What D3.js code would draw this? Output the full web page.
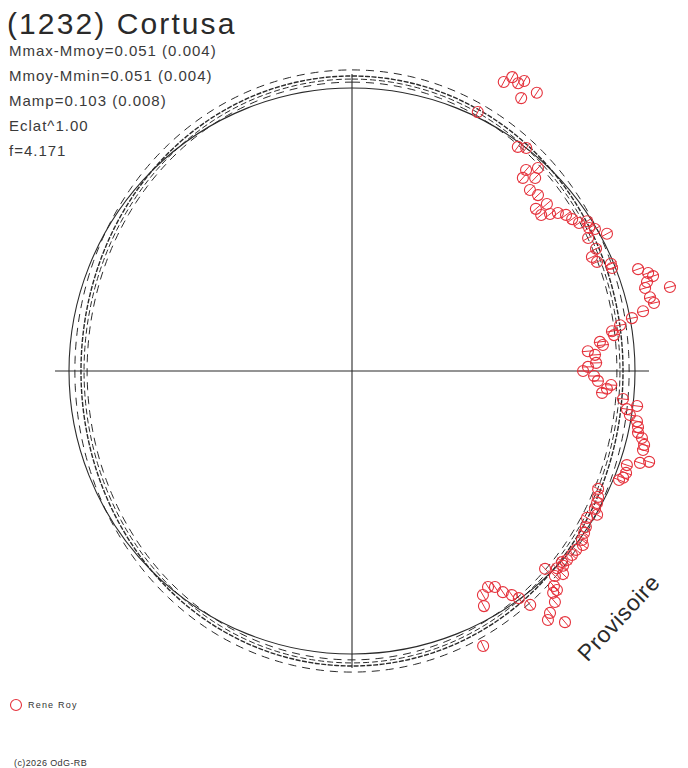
<!DOCTYPE html>
<html>
<head>
<meta charset="utf-8">
<script src="https://cdn.jsdelivr.net/npm/d3@7"></script>
<style>
html,body{margin:0;padding:0;background:#fff;}
svg{display:block;font-family:"Liberation Sans",Arial,sans-serif;}
</style>
</head>
<body>
<svg id="chart" width="688" height="768"></svg>
<script>
// ---- data (phase angle in degrees, clockwise from top; magnitude offset from mean in mag, outward positive)
const title = "(1232) Cortusa";
const statLines = ["Mmax-Mmoy=0.051 (0.004)", "Mmoy-Mmin=0.051 (0.004)", "Mamp=0.103 (0.008)", "Eclat^1.00", "f=4.171"];
const observers = ["Rene Roy"];
const phaseDeg = [27.7,28.6,30.0,30.7,31.8,33.6,25.9,36.5,38.0,40.9,42.5,41.5,43.5,44.5,46.6,48.6,49.4,50.5,51.6,52.5,
  53.9,55.4,56.9,57.5,58.9,59.7,61.7,60.6,63.4,64.6,66.0,67.5,68.4,70.4,71.7,72.5,73.2,74.2,75.2,76.1,
  77.3,78.4,79.3,80.3,81.3,82.2,83.3,84.1,85.2,86.2,88.1,89.0,90.0,91.2,92.3,93.1,94.0,95.0,95.9,97.9,
  97.0,99.0,100.0,101.1,102.2,103.0,104.2,105.2,107.7,107.0,108.9,110.4,111.5,112.2,115.6,117.1,118.3,119.6,120.4,122.0,
  123.7,124.9,126.3,127.0,128.6,129.9,131.3,132.3,132.7,133.9,135.7,133.9,135.3,136.8,136.9,137.8,138.7,140.7,141.8,139.7,
  142.7,143.7,144.5,145.7,146.5,147.8,149.7,150.7,154.5];
const deltaMag = [0.185,0.220,0.210,0.231,0.162,0.217,0.021,-0.018,0.000,-0.073,-0.033,-0.107,-0.072,-0.124,-0.115,-0.161,-0.112,-0.161,-0.129,-0.100,
  -0.077,-0.066,-0.051,-0.018,-0.026,-0.007,0.028,-0.051,-0.043,-0.074,-0.063,-0.012,-0.014,0.088,0.123,0.139,0.107,0.092,0.195,0.102,
  0.113,0.060,0.008,-0.047,-0.085,-0.079,-0.142,-0.131,-0.197,-0.168,-0.165,-0.200,-0.221,-0.174,-0.157,-0.100,-0.117,-0.136,-0.045,-0.023,
  0.018,-0.007,0.027,0.036,0.041,0.062,0.078,0.079,0.082,0.118,0.032,0.040,0.036,0.023,-0.043,-0.028,-0.020,-0.015,0.005,-0.025,
  -0.008,0.000,0.010,0.026,0.016,0.016,0.014,0.004,0.018,0.006,-0.028,0.042,0.023,0.051,0.072,0.070,0.104,0.126,0.144,0.197,
  0.047,-0.005,-0.033,-0.065,-0.102,-0.118,-0.100,-0.057,0.092];
const magError = 0.026;
// Fourier fit: second harmonic amplitude (mag) and envelope offsets (mag)
const fitAmplitude = 0.051;
const envelopeOffsets = [0.026, -0.013, -0.026];

// ---- layout
const svg = d3.select("#chart");
const cx = 352, cy = 371;
const r = d3.scaleLinear().domain([0, 0.1]).range([283, 306.5]);
const toRad = d3.scaleLinear().domain([0, 360]).range([0, 2 * Math.PI]);
const red = "#e5323c";
const ink = "#2a2a2a";

const g = svg.append("g").attr("transform", `translate(${cx},${cy})`);

// axes
const axisLen = r(fitAmplitude) + 2;
g.append("line").attr("x1", -axisLen).attr("x2", axisLen).attr("y1", 0).attr("y2", 0)
  .attr("stroke", ink).attr("stroke-width", 1.1);
g.append("line").attr("y1", -axisLen).attr("y2", axisLen).attr("x1", 0).attr("x2", 0)
  .attr("stroke", ink).attr("stroke-width", 1.1);

// mean circle
g.append("circle").attr("r", r(0)).attr("fill", "none").attr("stroke", ink).attr("stroke-width", 1.1);

// fit curves
const angles = d3.range(0, 361, 1);
const fitAt = a => fitAmplitude * Math.cos(2 * toRad(a));
const radial = off => d3.lineRadial().angle(a => toRad(a)).radius(a => r(fitAt(a) + off)).curve(d3.curveLinearClosed);

envelopeOffsets.forEach((off, i) => {
  g.append("path").attr("d", radial(off)(angles)).attr("fill", "none")
    .attr("stroke", ink).attr("stroke-width", 1)
    .attr("stroke-dasharray", i === 1 ? "6,3" : "8,6");
});
g.append("path").attr("d", radial(0)(angles)).attr("fill", "none")
  .attr("stroke", ink).attr("stroke-width", 1.4).attr("stroke-dasharray", "5,1.5");

// data points
const pts = phaseDeg.map((p, i) => ({ p, m: deltaMag[i] }));
const pg = g.append("g");
pts.forEach(d => {
  const a = toRad(d.p);
  const [x, y] = d3.pointRadial(a, r(d.m));
  const [x1, y1] = d3.pointRadial(a, r(d.m - magError));
  const [x2, y2] = d3.pointRadial(a, r(d.m + magError));
  pg.append("line").attr("x1", x1).attr("y1", y1).attr("x2", x2).attr("y2", y2)
    .attr("stroke", red).attr("stroke-width", 1);
  pg.append("circle").attr("cx", x).attr("cy", y).attr("r", 5.5)
    .attr("fill", "none").attr("stroke", red).attr("stroke-width", 1.1);
});

// texts
svg.append("text").attr("x", 7).attr("y", 34).attr("font-size", 30).attr("letter-spacing", 2.1)
  .attr("fill", ink).text(title);
statLines.forEach((t, i) => {
  svg.append("text").attr("x", 9).attr("y", 56 + i * 25).attr("font-size", 15).attr("letter-spacing", 1)
    .attr("fill", "#3a3a3a").text(t);
});
svg.append("text").attr("transform", "translate(620,619) rotate(-47)").attr("text-anchor", "middle")
  .attr("dominant-baseline", "middle").attr("font-size", 23).attr("letter-spacing", 0.6).attr("fill", ink).text("Provisoire");

// legend
observers.forEach((o, i) => {
  svg.append("circle").attr("cx", 16).attr("cy", 705 + i * 14).attr("r", 5.5)
    .attr("fill", "none").attr("stroke", red).attr("stroke-width", 1.1);
  svg.append("text").attr("x", 28).attr("y", 708 + i * 14).attr("font-size", 9).attr("letter-spacing", 1.2)
    .attr("fill", "#333").text(o);
});
svg.append("text").attr("x", 14).attr("y", 766).attr("font-size", 9).attr("letter-spacing", 0.4)
  .attr("fill", "#333").text("(c)2026 OdG-RB");
</script>
</body>
</html>
